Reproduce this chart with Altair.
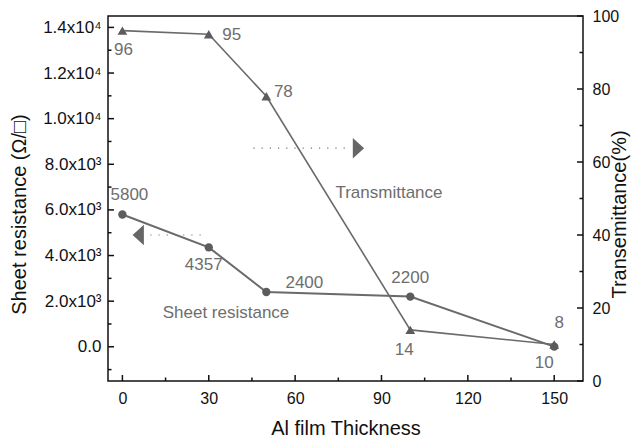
import altair as alt
import pandas as pd

# ---------------- data ----------------
thickness = [0, 30, 50, 100, 150]
sheet_resistance = [5800, 4357, 2400, 2200, 8]
transmittance = [96, 95, 78, 14, 10]
sheet_text = ["5800", "4357", "2400", "2200", "8"]
trans_text = ["96", "95", "78", "14", "10"]

x_ticks = [0, 30, 60, 90, 120, 150]
x_minor = [15, 45, 75, 105, 135]
left_ticks = [0, 2000, 4000, 6000, 8000, 10000, 12000, 14000]
left_tick_labels = ["0.0", "2.0x10³", "4.0x10³", "6.0x10³", "8.0x10³",
                    "1.0x10⁴", "1.2x10⁴", "1.4x10⁴"]
left_minor = [-1000, 1000, 3000, 5000, 7000, 9000, 11000, 13000]
right_ticks = [0, 20, 40, 60, 80, 100]
right_minor = [10, 30, 50, 70, 90]

trans_note = ["Transmittance"]
trans_note_x = [74]
trans_note_y = [51.5]
sheet_note = ["Sheet resistance"]
sheet_note_x = [14]
sheet_note_y = [1500]

arrow_r_x = [45.5, 79.2]
arrow_r_y = [63.8, 63.8]
arrow_r_head_x = [82.0]
arrow_r_head_y = [63.8]
arrow_l_x = [9.7, 27.8]
arrow_l_y = [4900, 4900]
arrow_l_head_x = [5.5]
arrow_l_head_y = [4900]

# ---------------- styling ----------------
FONT = "Liberation Sans"
W, H = 475, 365
LINE = "#6a6a6a"
MARK = "#5c5c5c"
TXT = "#6e6e6e"

df = pd.DataFrame({"t": thickness, "r": sheet_resistance, "p": transmittance,
                   "rl": sheet_text, "pl": trans_text})

label_expr = "''"
for v, l in reversed(list(zip(left_ticks, left_tick_labels))):
    label_expr = f"datum.value == {v} ? '{l}' : ({label_expr})"

x_axis = alt.Axis(values=x_ticks, format="d", ticks=False, domain=False, grid=False,
                  labelFontSize=16, labelPadding=9, labelColor="#111",
                  title="Al film Thickness", titleFontSize=20, titleFontWeight="normal",
                  titleColor="#111", titleY=53, titleBaseline="alphabetic")
x_scale = alt.Scale(domain=[-5, 160], nice=False, zero=False)

left_axis = alt.Axis(values=left_ticks, labelExpr=label_expr, ticks=False, domain=False,
                     grid=False, labelFontSize=17, labelPadding=7, labelColor="#111",
                     orient="left",
                     title="Sheet resistance (Ω/□)", titleFontSize=20,
                     titleFontWeight="normal", titleColor="#111", titleAngle=270,
                     titleX=-89, titleY=198, titleAlign="center", titleBaseline="middle")
left_scale = alt.Scale(domain=[-1500, 14500], nice=False, zero=False)

right_axis = alt.Axis(values=right_ticks, format="d", ticks=False, domain=False, grid=False,
                      labelFontSize=16, labelPadding=9, labelColor="#111", orient="right",
                      title="Transemittance(%)", titleFontSize=20, titleFontWeight="normal",
                      titleColor="#111", titleAngle=270, titleX=36, titleY=198,
                      titleAlign="center", titleBaseline="middle")
right_scale = alt.Scale(domain=[0, 100], nice=False, zero=False)


def X(f):
    return alt.X(f, type="quantitative", scale=x_scale, axis=x_axis)


def YL(f):
    return alt.Y(f, type="quantitative", scale=left_scale, axis=left_axis)


def YR(f):
    return alt.Y(f, type="quantitative", scale=right_scale, axis=right_axis)


# ---------------- sheet resistance (left) ----------------
sheet_line = alt.Chart(df).mark_line(color=LINE, strokeWidth=2).encode(x=X("t"), y=YL("r"))
sheet_pts = alt.Chart(df).mark_point(shape="circle", filled=True, opacity=1, size=70,
                                     color=MARK).encode(x=X("t"), y=YL("r"))
sheet_offsets = [(7, -19), (-5, 18), (38, -9), (0, -19), (5, -24)]
sheet_labels = [
    alt.Chart(df.iloc[[i]]).mark_text(font=FONT, fontSize=17, color=TXT, dx=dx, dy=dy,
                                      align="center", baseline="middle")
    .encode(x=X("t"), y=YL("r"), text="rl:N")
    for i, (dx, dy) in enumerate(sheet_offsets)
]

lt_major = alt.Chart(pd.DataFrame({"v": left_ticks})).mark_rule(color="#111", strokeWidth=1.5) \
    .encode(y=YL("v"), x=alt.value(0), x2=alt.value(6))
lt_minor = alt.Chart(pd.DataFrame({"v": left_minor})).mark_rule(color="#111", strokeWidth=1.5) \
    .encode(y=YL("v"), x=alt.value(0), x2=alt.value(3.5))
xt_major = alt.Chart(pd.DataFrame({"v": x_ticks})).mark_rule(color="#111", strokeWidth=1.5) \
    .encode(x=X("v"), y=alt.value(H), y2=alt.value(H - 6))
xt_minor = alt.Chart(pd.DataFrame({"v": x_minor})).mark_rule(color="#111", strokeWidth=1.5) \
    .encode(x=X("v"), y=alt.value(H), y2=alt.value(H - 3.5))

arrow_l = alt.Chart(pd.DataFrame({"x": arrow_l_x, "y": arrow_l_y})).mark_line(
    color="#777", strokeWidth=1.2, strokeDash=[1.2, 7]).encode(x=X("x"), y=YL("y"))
arrow_l_head = alt.Chart(pd.DataFrame({"x": arrow_l_head_x, "y": arrow_l_head_y})).mark_point(
    shape="M0.55,-1L-0.55,0L0.55,1Z", filled=True, opacity=1, size=420, color="#666"
).encode(x=X("x"), y=YL("y"))
sheet_note_t = alt.Chart(pd.DataFrame({"x": sheet_note_x, "y": sheet_note_y, "s": sheet_note})) \
    .mark_text(font=FONT, fontSize=17, color=TXT, align="left", baseline="middle") \
    .encode(x=X("x"), y=YL("y"), text="s:N")

left_layer = alt.layer(lt_major, lt_minor, xt_major, xt_minor, arrow_l, arrow_l_head,
                       sheet_line, sheet_pts, sheet_note_t, *sheet_labels)

# ---------------- transmittance (right) ----------------
trans_line = alt.Chart(df).mark_line(color=LINE, strokeWidth=1.6).encode(x=X("t"), y=YR("p"))
trans_pts = alt.Chart(df).mark_point(shape="triangle-up", filled=True, opacity=1, size=95,
                                     color=MARK).encode(x=X("t"), y=YR("p"))
trans_offsets = [(1, 19), (23, 1), (17, -4), (-6, 20), (-10, 18)]
trans_labels = [
    alt.Chart(df.iloc[[i]]).mark_text(font=FONT, fontSize=17, color=TXT, dx=dx, dy=dy,
                                      align="center", baseline="middle")
    .encode(x=X("t"), y=YR("p"), text="pl:N")
    for i, (dx, dy) in enumerate(trans_offsets)
]
rt_major = alt.Chart(pd.DataFrame({"v": right_ticks})).mark_rule(color="#111", strokeWidth=1.5) \
    .encode(y=YR("v"), x=alt.value(W), x2=alt.value(W - 6))
rt_minor = alt.Chart(pd.DataFrame({"v": right_minor})).mark_rule(color="#111", strokeWidth=1.5) \
    .encode(y=YR("v"), x=alt.value(W), x2=alt.value(W - 3.5))

arrow_r = alt.Chart(pd.DataFrame({"x": arrow_r_x, "y": arrow_r_y})).mark_line(
    color="#777", strokeWidth=1.2, strokeDash=[1.2, 7]).encode(x=X("x"), y=YR("y"))
arrow_r_head = alt.Chart(pd.DataFrame({"x": arrow_r_head_x, "y": arrow_r_head_y})).mark_point(
    shape="M-0.55,-1L0.55,0L-0.55,1Z", filled=True, opacity=1, size=420, color="#666"
).encode(x=X("x"), y=YR("y"))
trans_note_t = alt.Chart(pd.DataFrame({"x": trans_note_x, "y": trans_note_y, "s": trans_note})) \
    .mark_text(font=FONT, fontSize=17, color=TXT, align="left", baseline="middle") \
    .encode(x=X("x"), y=YR("y"), text="s:N")

right_layer = alt.layer(rt_major, rt_minor, arrow_r, arrow_r_head, trans_line, trans_pts,
                        trans_note_t, *trans_labels)

chart = alt.layer(left_layer, right_layer).resolve_scale(y="independent").properties(
    width=W, height=H,
    autosize=alt.AutoSizeParams(type="none"),
    padding={"left": 100, "top": 8, "right": 49, "bottom": 57},
).configure_view(stroke="#111", strokeWidth=1.5).configure_axis(
    labelFont=FONT, titleFont=FONT
).configure_text(font=FONT)

chart.save("out.html", embed_options={"renderer": "svg", "actions": False})
